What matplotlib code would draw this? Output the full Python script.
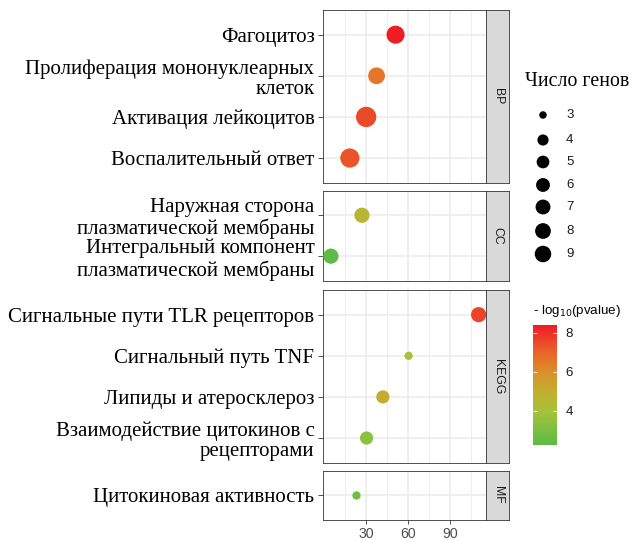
import numpy as np
import matplotlib
matplotlib.use("Agg")
import matplotlib.pyplot as plt
from matplotlib.colors import LinearSegmentedColormap, Normalize
from matplotlib.cm import ScalarMappable

# данные
terms = [
    "Фагоцитоз",
    "Пролиферация мононуклеарных\nклеток",
    "Активация лейкоцитов",
    "Воспалительный ответ",
    "Наружная сторона\nплазматической мембраны",
    "Интегральный компонент\nплазматической мембраны",
    "Сигнальные пути TLR рецепторов",
    "Сигнальный путь TNF",
    "Липиды и атеросклероз",
    "Взаимодействие цитокинов с\nрецепторами",
    "Цитокиновая активность",
]
groups = ["BP", "BP", "BP", "BP", "CC", "CC", "KEGG", "KEGG", "KEGG", "KEGG", "MF"]
enrichment = [51.1, 37.6, 30.2, 18.6, 27.2, 5.1, 110.2, 60.4, 42.1, 30.5, 23.1]
gene_count = [7, 6, 9, 8, 5, 5, 5, 3, 4, 4, 3]
neg_log_p = [8.39, 6.6, 7.5, 7.3, 4.6, 2.26, 7.6, 4.1, 5.1, 3.4, 2.7]

facet_order = ["BP", "CC", "KEGG", "MF"]
size_breaks = [3, 4, 5, 6, 7, 8, 9]
color_breaks = [4, 6, 8]

W, H = 632, 540
fig = plt.figure(figsize=(W / 100, H / 100), dpi=100)

vmin, vmax = min(neg_log_p), max(neg_log_p)
stops = [(2.26, "#5DBB46"), (4.0, "#A6C23B"), (5.0, "#C3AE2F"),
         (6.0, "#DB8F2A"), (7.0, "#E9642A"), (8.39, "#EE1C25")]
cmap = LinearSegmentedColormap.from_list(
    "grp", [((v - vmin) / (vmax - vmin), c) for v, c in stops])
norm = Normalize(vmin, vmax)


def diam(n, dmin, dmax):
    # как area_pal в ggplot: диаметр ~ sqrt от масштабированного значения
    return dmin + (dmax - dmin) * np.sqrt((np.asarray(n) - 3) / 6)


def px_area(d):
    return (d * 0.72) ** 2


serif = ["Liberation Serif", "DejaVu Serif"]
sans = ["Liberation Sans", "DejaVu Sans"]

# общий x-диапазон с расширением 5%, как в ggplot
xr = max(enrichment) - min(enrichment)
xlim = (min(enrichment) - 0.05 * xr, max(enrichment) + 0.05 * xr)

# пиксельные границы панелей (сверху вниз)
panel_left, panel_right = 323.5, 486
strip_right = 509
panel_rows = {"BP": (10, 182.7), "CC": (190.7, 280.7), "KEGG": (290, 462.7), "MF": (470.7, 520)}

for g in facet_order:
    top, bot = panel_rows[g]
    ax = fig.add_axes([panel_left / W, 1 - bot / H, (panel_right - panel_left) / W, (bot - top) / H])
    idx = [i for i, gg in enumerate(groups) if gg == g]
    n = len(idx)
    ypos = np.arange(n)
    xs = [enrichment[i] for i in idx]
    cs = [neg_log_p[i] for i in idx]
    ss = px_area(diam([gene_count[i] for i in idx], 8.3, 20.3))
    ax.scatter(xs, ypos, s=ss, c=cs, cmap=cmap, norm=norm, linewidths=0, zorder=3, clip_on=False)
    ax.set_ylim(n - 1 + 0.6, -0.6)
    ax.set_xlim(*xlim)
    ax.set_yticks(ypos)
    ax.set_yticklabels([terms[i] for i in idx], fontsize=15, family=serif,
                       linespacing=1.12, color="black")
    ax.set_xticks([30, 60, 90])
    ax.set_xticks([15, 45, 75, 105], minor=True)
    ax.grid(True, which="major", color="#EBEBEB", lw=1.1, zorder=0)
    ax.grid(True, which="minor", axis="x", color="#EBEBEB", lw=0.6, zorder=0)
    ax.set_axisbelow(True)
    for sp in ax.spines.values():
        sp.set_color("#333333")
        sp.set_linewidth(0.6)
    ax.tick_params(axis="y", length=3.5, width=0.6, color="#333333", pad=3)
    ax.tick_params(axis="x", which="major", length=3, width=0.6, color="#333333",
                   labelsize=10.2, labelcolor="#4D4D4D", pad=2)
    ax.tick_params(axis="x", which="minor", length=0)
    if g != "MF":
        ax.tick_params(axis="x", labelbottom=False, length=0)
    for lab in ax.get_xticklabels():
        lab.set_family(sans)

    # полоса фасета справа
    sax = fig.add_axes([panel_right / W, 1 - bot / H, (strip_right - panel_right) / W, (bot - top) / H])
    sax.set_facecolor("#D9D9D9")
    sax.set_xticks([])
    sax.set_yticks([])
    for sp in sax.spines.values():
        sp.set_color("#333333")
        sp.set_linewidth(0.6)
    sax.text(0.5, 0.5, g, rotation=-90, ha="center", va="center", fontsize=8.8,
             color="#1A1A1A", family=sans, transform=sax.transAxes)

# легенда размера
fig.text(525 / W, 1 - 82 / H, "Число генов", fontsize=14.3, family=serif,
         ha="left", va="center")
lax = fig.add_axes([0, 0, 1, 1], facecolor="none")
lax.set_xlim(0, W)
lax.set_ylim(H, 0)
lax.axis("off")
legend_y = [115, 140, 162, 185, 207, 231, 254]
lax.scatter([543] * len(size_breaks), legend_y,
            s=px_area(diam(size_breaks, 7.5, 16.5)), color="black", linewidths=0)
for v, yy in zip(size_breaks, legend_y):
    lax.text(566, yy, str(v), fontsize=9.5, family=sans, va="center", ha="left",
             color="#1A1A1A")

# цветовая шкала
fig.text(533 / W, 1 - 311 / H, "- log$_{10}$(pvalue)", fontsize=9.6, family=sans,
         ha="left", va="center")
cax = fig.add_axes([533 / W, 1 - 445 / H, 24 / W, 120 / H])
cb = fig.colorbar(ScalarMappable(norm=norm, cmap=cmap), cax=cax, ticks=color_breaks)
cb.outline.set_visible(False)
cax.tick_params(direction="in", color="white", length=3, width=0.6, left=True, right=True,
                labelsize=9.5, labelcolor="#1A1A1A", pad=6)
for lab in cax.get_yticklabels():
    lab.set_family(sans)

fig.savefig("out.png", dpi=100)
